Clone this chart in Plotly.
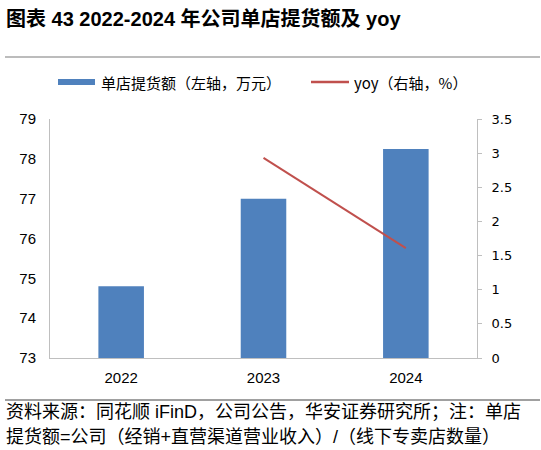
"""Single-store sales per store, 2022-2024, with yoy on the right axis."""

import plotly.graph_objects as go

YEARS = ["2022", "2023", "2024"]
SALES = [74.8, 77.0, 78.25]  # 单店提货额, 万元
YOY = [None, 2.93, 1.61]  # %

TITLE = "图表 43 2022-2024 年公司单店提货额及 yoy"
SOURCE_LINES = [
    "资料来源：同花顺 iFinD，公司公告，华安证券研究所；注：单店",
    "提货额=公司（经销+直营渠道营业收入）/（线下专卖店数量）",
]
LEGEND_BAR = "单店提货额（左轴，万元）"
LEGEND_LINE = "yoy（右轴，%）"

BLUE = "#4F81BD"
RED = "#C0504D"
GRAY = "#BFBFBF"
NUM_FONT = "Liberation Sans, Arial, sans-serif"
CJK_FONT = "Noto Sans CJK SC, sans-serif"

W, H = 541, 450
M_L, M_R, M_T, M_B = 50, 64, 119, 92
PW, PH = W - M_L - M_R, H - M_T - M_B


def px(x):
    """Horizontal pixel -> paper coordinate."""
    return (x - M_L) / PW


def py(y):
    """Vertical pixel (from top) -> paper coordinate."""
    return (H - M_B - y) / PH


fig = go.Figure()
fig.add_trace(
    go.Bar(x=YEARS, y=SALES, marker={"color": BLUE, "line": {"width": 0}},
           showlegend=False, yaxis="y")
)
fig.add_trace(
    go.Scatter(x=YEARS, y=YOY, mode="lines", line={"color": RED, "width": 2},
               showlegend=False, yaxis="y2")
)

fig.update_layout(
    width=W,
    height=H,
    margin={"l": M_L, "r": M_R, "t": M_T, "b": M_B},
    paper_bgcolor="white",
    plot_bgcolor="white",
    bargap=0.68,
    xaxis={
        "showline": True, "linecolor": GRAY, "linewidth": 1,
        "ticks": "", "showgrid": False, "ticklabelstandoff": 6,
        "tickfont": {"family": NUM_FONT, "size": 15, "color": "#000"},
    },
    yaxis={
        "range": [73, 79], "dtick": 1, "showgrid": False, "zeroline": False,
        "showline": True, "linecolor": GRAY, "linewidth": 1, "ticks": "",
        "ticklabelstandoff": 10,
        "tickfont": {"family": NUM_FONT, "size": 15, "color": "#000"},
    },
    yaxis2={
        "range": [0, 3.5], "dtick": 0.5, "overlaying": "y", "side": "right",
        "showgrid": False, "zeroline": False,
        "showline": True, "linecolor": GRAY, "linewidth": 1,
        "ticks": "outside", "ticklen": 4, "tickcolor": GRAY,
        "ticklabelstandoff": 7,
        "tickfont": {"family": "DejaVu Sans, sans-serif", "size": 13, "color": "#000"},
    },
)

shapes = [
    # rule under the title
    {"type": "line", "xref": "paper", "yref": "paper",
     "x0": px(5), "x1": px(540), "y0": py(57), "y1": py(57),
     "line": {"color": "#A6A6A6", "width": 1.5}},
    # rule above the source
    {"type": "line", "xref": "paper", "yref": "paper",
     "x0": px(5), "x1": px(540), "y0": py(400), "y1": py(400),
     "line": {"color": "#808080", "width": 1.5}},
    # legend swatches
    {"type": "rect", "xref": "paper", "yref": "paper",
     "x0": px(58), "x1": px(95), "y0": py(79), "y1": py(85),
     "fillcolor": BLUE, "line": {"width": 0}},
    {"type": "line", "xref": "paper", "yref": "paper",
     "x0": px(311), "x1": px(349), "y0": py(82), "y1": py(82),
     "line": {"color": RED, "width": 2.5}},
]

annotations = [
    {"text": f"<b>{TITLE}</b>", "xref": "paper", "yref": "paper",
     "x": px(4), "y": py(18), "xanchor": "left", "yanchor": "middle",
     "showarrow": False,
     "font": {"family": f"Liberation Sans, {CJK_FONT}", "size": 20, "color": "#000"}},
    {"text": LEGEND_BAR, "xref": "paper", "yref": "paper",
     "x": px(99), "y": py(82), "xanchor": "left", "yanchor": "middle",
     "showarrow": False,
     "font": {"family": CJK_FONT, "size": 15, "color": "#000"}},
    {"text": LEGEND_LINE, "xref": "paper", "yref": "paper",
     "x": px(352), "y": py(82), "xanchor": "left", "yanchor": "middle",
     "showarrow": False,
     "font": {"family": CJK_FONT, "size": 15, "color": "#000"}},
]
for i, line in enumerate(SOURCE_LINES):
    annotations.append(
        {"text": line, "xref": "paper", "yref": "paper",
         "x": px(4), "y": py(412 + 25 * i), "xanchor": "left", "yanchor": "middle",
         "showarrow": False,
         "font": {"family": f"Liberation Sans, {CJK_FONT}", "size": 18, "color": "#000"}}
    )

fig.update_layout(shapes=shapes, annotations=annotations)
fig.write_html(
    "out.html",
    config={"displayModeBar": False},
    post_script="document.body.style.margin='0';",
)
